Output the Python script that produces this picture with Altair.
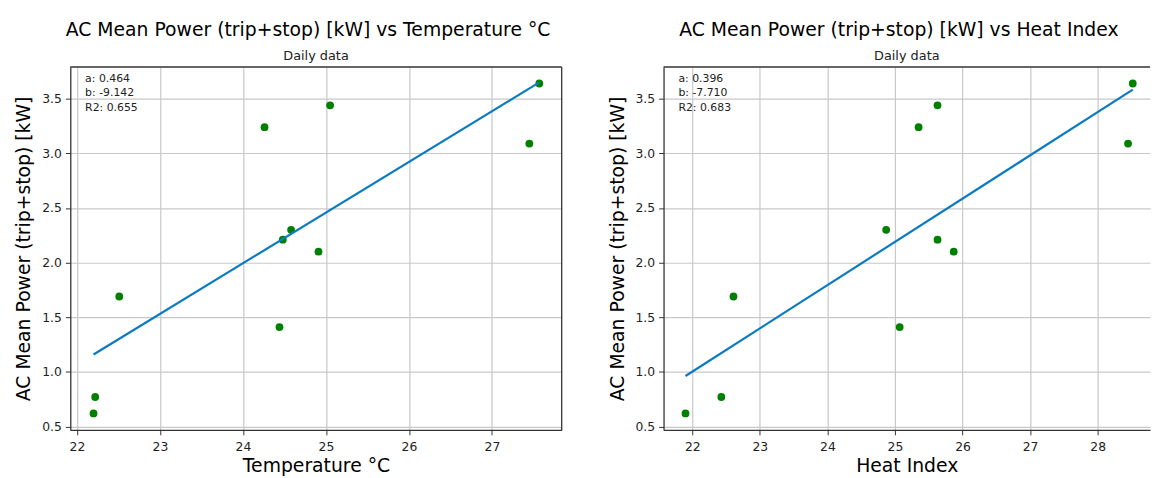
import altair as alt
import pandas as pd

# ---- data ----
power = [0.62, 0.77, 1.69, 3.24, 1.41, 2.21, 2.30, 2.10, 3.44, 3.09, 3.64]
temperature = [22.20, 22.22, 22.51, 24.26, 24.44, 24.48, 24.58, 24.91, 25.05, 27.45, 27.57]
heat_index = [21.90, 22.43, 22.61, 25.35, 25.07, 25.63, 24.87, 25.87, 25.63, 28.45, 28.52]

fit_a = [0.464, 0.396]
fit_b = [-9.142, -7.710]
fit_r2 = [0.655, 0.683]

main_titles = ["AC Mean Power (trip+stop) [kW] vs Temperature °C",
               "AC Mean Power (trip+stop) [kW] vs Heat Index"]
sub_title = "Daily data"
x_titles = ["Temperature °C", "Heat Index"]
y_title = "AC Mean Power (trip+stop) [kW]"
x_ticks = [[22, 23, 24, 25, 26, 27], [22, 23, 24, 25, 26, 27, 28]]
y_ticks = [0.5, 1.0, 1.5, 2.0, 2.5, 3.0, 3.5]

FONT = "DejaVu Sans"
DARK = "#333333"
H = 367


def panel(xs, a, b, r2, main_title, x_title, ticks, xdomain, width, full_frame):
    df = pd.DataFrame({"x": xs, "y": power})
    xmin, xmax = min(xs), max(xs)
    line_df = pd.DataFrame({"x": [xmin, xmax], "y": [a * xmin + b, a * xmax + b]})
    ann_df = pd.DataFrame({"t": [f"a: {a:.3f}\nb: {b:.3f}\nR2: {r2:.3f}"]})
    sub_df = pd.DataFrame({"t": [sub_title]})

    xenc = alt.X("x:Q", scale=alt.Scale(domain=xdomain, nice=False, zero=False),
                 axis=alt.Axis(title=x_title, values=ticks, format="d"))
    yenc = alt.Y("y:Q", scale=alt.Scale(domain=[0.469, 3.791], nice=False, zero=False),
                 axis=alt.Axis(title=y_title, values=y_ticks, format=".1f"))

    pts = alt.Chart(df).mark_circle(color="#008000", opacity=1, size=62).encode(x=xenc, y=yenc)
    fit = alt.Chart(line_df).mark_line(color="#0b7bc1", strokeWidth=2.2).encode(x="x:Q", y="y:Q")
    ann = alt.Chart(ann_df).mark_text(
        align="left", baseline="top", fontSize=11, font=FONT, color="#222222",
        lineBreak="\n", lineHeight=14.5
    ).encode(x=alt.value(15), y=alt.value(6), text="t:N")
    sub = alt.Chart(sub_df).mark_text(
        align="center", baseline="alphabetic", fontSize=13, font=FONT, color="#222222"
    ).encode(x=alt.value(width / 2), y=alt.value(-7.3), text="t:N")
    top = alt.Chart(sub_df).mark_rule(color=DARK, strokeWidth=1.3).encode(
        y=alt.value(0), x=alt.value(0), x2=alt.value(width))

    layers = [pts, fit, ann, sub, top]
    if full_frame:
        right = alt.Chart(sub_df).mark_rule(color=DARK, strokeWidth=1.3).encode(
            x=alt.value(width), y=alt.value(0), y2=alt.value(H))
        layers.append(right)

    return alt.layer(*layers).properties(
        width=width, height=H,
        title=alt.TitleParams(text=main_title, fontSize=19, font=FONT, fontWeight="normal",
                              color="#000000", anchor="middle", frame="group", offset=10,
                              dx=-8),
        view=alt.ViewBackground(stroke="transparent"),
    )


left = panel(temperature, fit_a[0], fit_b[0], fit_r2[0], main_titles[0], x_titles[0],
             x_ticks[0], [21.92, 27.84], 497, True)
right = panel(heat_index, fit_a[1], fit_b[1], fit_r2[1], main_titles[1], x_titles[1],
              x_ticks[1], [21.575, 21.575 + 492 / 68.33], 492, False)

chart = alt.hconcat(left, right, spacing=44).properties(
    padding={"left": 6, "top": 10, "right": 0, "bottom": 0}
).configure_view(stroke="transparent").configure_axis(
    grid=True, gridColor="#c8c8c8", gridWidth=1.2,
    domain=True, domainColor=DARK, domainWidth=1.3,
    ticks=True, tickColor=DARK, tickSize=5, tickWidth=1,
    labelFont=FONT, labelFontSize=12.5, labelColor="#222222",
    titleFont=FONT, titleFontSize=19, titleFontWeight="normal", titleColor="#000000",
).configure_axisX(labelPadding=6, titlePadding=4).configure_axisY(labelPadding=4, titlePadding=8)

chart.save("out.html", embed_options={"renderer": "svg", "actions": False})
